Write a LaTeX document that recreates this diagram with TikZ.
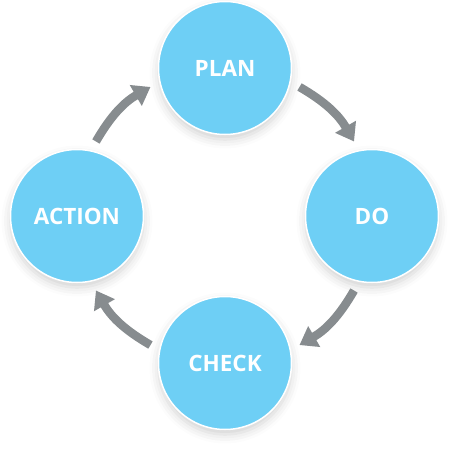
\documentclass[tikz,border=0pt]{standalone}
\usepackage{fontspec}
\setsansfont{Open Sans}
\usepackage{tikz}
\usetikzlibrary{arrows.meta,positioning,shadows.blur}
\usepackage{xcolor}
\definecolor{stepblue}{RGB}{110,207,245}
\definecolor{cyclegray}{RGB}{135,140,143}

\begin{document}
\begin{tikzpicture}[
    x=1pt, y=1pt,
    phase/.style={circle, fill=stepblue, draw=white, line width=1.5pt,
        minimum size=133pt, inner sep=0pt, text=white,
        font=\sffamily\bfseries\fontsize{22.5}{26}\selectfont,
        blur shadow={shadow xshift=0pt, shadow yshift=-5pt,
            shadow blur radius=9pt, shadow opacity=18}},
    cyc/.style={draw=cyclegray, line width=8.5pt,
        -{Triangle[width=23pt, length=17pt]}}
]
\useasboundingbox (-225,-243) rectangle (225,216);

% the four phases
\node[phase] (plan)   at (0,148)  {PLAN};
\node[phase] (do)     at (147,0)  {DO};
\node[phase] (check)  at (0,-147) {CHECK};
\node[phase] (action) at (-148,0) {ACTION};

% ends of the arrows on the big circle
\foreach \k/\a in {0/150, 1/60, 2/-30, 3/-120} {
    \coordinate (s\k) at (\a:149);
    \coordinate (e\k) at (\a-30:149);
}
\draw[cyc] (s0) to[bend left=15] (e0);
\draw[cyc] (s1) to[bend left=15] (e1);
\draw[cyc] (s2) to[bend left=15] (e2);
\draw[cyc] (s3) to[bend left=15] (e3);
\end{tikzpicture}
\end{document}
